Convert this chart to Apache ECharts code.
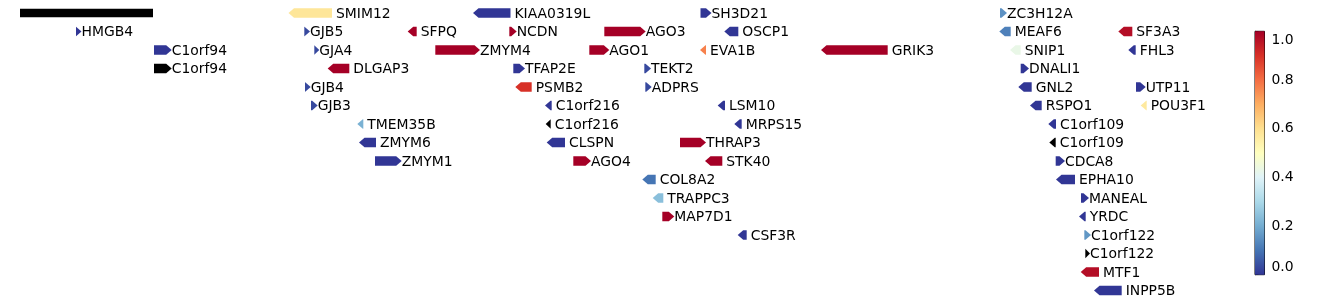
<!DOCTYPE html>
<html>
<head>
<meta charset="utf-8">
<script src="https://cdn.jsdelivr.net/npm/echarts@6/dist/echarts.min.js"></script>
<style>
html,body{margin:0;padding:0;background:#fff;}
#chart{width:1338px;height:305px;}
</style>
</head>
<body>
<div id="chart"></div>
<script>
// ---- data (positions in track units, rows top to bottom) ----
const geneNames = ['SMIM12','KIAA0319L','SH3D21','ZC3H12A',
  'HMGB4','GJB5','SFPQ','NCDN','AGO3','OSCP1','MEAF6','SF3A3',
  'C1orf94','GJA4','ZMYM4','AGO1','EVA1B','GRIK3','SNIP1','FHL3',
  'C1orf94','DLGAP3','TFAP2E','TEKT2','DNALI1',
  'GJB4','PSMB2','ADPRS','GNL2','UTP11',
  'GJB3','C1orf216','LSM10','RSPO1','POU3F1',
  'TMEM35B','C1orf216','MRPS15','C1orf109',
  'ZMYM6','CLSPN','THRAP3','C1orf109',
  'ZMYM1','AGO4','STK40','CDCA8',
  'COL8A2','EPHA10',
  'TRAPPC3','MANEAL',
  'MAP7D1','YRDC',
  'CSF3R','C1orf122',
  'C1orf122',
  'MTF1',
  'INPP5B'];
const geneRows = [0,0,0,0,
  1,1,1,1,1,1,1,1,
  2,2,2,2,2,2,2,2,
  3,3,3,3,3,
  4,4,4,4,4,
  5,5,5,5,5,
  6,6,6,6,
  7,7,7,7,
  8,8,8,8,
  9,9,
  10,10,
  11,11,
  12,12,
  13,
  14,
  15];
const geneStarts = [288.5,473,700.5,1000,
  76,304.3,407.7,509.3,604.3,724.3,999.3,1118.3,
  154,314.3,435.3,589.3,700,821,1010,1128.3,
  154,327.7,513.3,644.3,1020.7,
  305,515.3,645.3,1018.3,1136,
  311,545,717.7,1030,1140.7,
  357.3,545.7,734.3,1048.3,
  359,546.7,680,1049.3,
  375,573.3,705,1055.7,
  642.3,1056,
  652.7,1081,
  662.3,1079,
  737.7,1084.3,
  1085.3,
  1080.7,
  1094];
const geneEnds = [332,510.5,711.5,1007,
  81.5,310,416.7,516.7,645.7,738.3,1010.7,1132.3,
  171.7,319.3,480,609.3,706,887.7,1020.7,1135.7,
  171.7,349.3,525,651,1029,
  310.7,531.7,651.7,1031.7,1145.7,
  317.7,551.7,725,1041.7,1146.7,
  363.3,550.7,741.7,1056,
  376,565,706,1055.7,
  401.7,591,722.3,1065,
  655.7,1075,
  663.3,1089,
  674.3,1085.7,
  746.7,1091,
  1090,
  1099,
  1121.7];
const geneStrands = [-1,-1,1,1,
  1,1,-1,1,1,-1,-1,-1,
  1,1,1,1,-1,-1,-1,-1,
  1,-1,1,1,1,
  1,-1,1,-1,1,
  1,-1,-1,-1,-1,
  -1,-1,-1,-1,
  -1,-1,1,-1,
  1,1,-1,1,
  -1,-1,
  -1,1,
  1,-1,
  -1,1,
  1,
  -1,
  -1];
// null = no score (drawn black)
const geneScores = [0.58,0,0,0.15,
  0,0.03,1,1,1,0,0.12,0.97,
  0,0.03,1,1,0.77,1,0.43,0,
  null,1,0,0.03,0,
  0.03,0.9,0.03,0,0,
  0.03,0,0,0,0.57,
  0.21,null,0,0,
  0,0,1,null,
  0,1,1,0,
  0.1,0,
  0.24,0,
  1,0,
  0,0.16,
  null,
  0.97,
  0];
// region bar (top-left)
const regionRow = [0];
const regionStart = [20];
const regionEnd = [153];
// colorbar
const cbarMin = 0, cbarMax = 1, cbarStep = 0.2;
const cmap = ['#313695','#4575b4','#74add1','#abd9e9','#e0f3f8','#ffffbf','#fee090','#fdae61','#f46d43','#d73027','#a50026'];

// ---- styles ----
const FONT = 'DejaVu Sans';
const FS = 13.9;
const HEAD = 5.5;
const ARROW_FRAC = 0.52;
const BAR_FRAC = 0.45;
const GAP_FWD = 0, GAP_REV = 4;
const TEXT_DY = 1;

function colorOf(v){
  if (v === null || v === undefined || isNaN(v)) return '#000000';
  const t = Math.max(0, Math.min(1, (v - cbarMin) / (cbarMax - cbarMin)));
  return echarts.color.lerp(t, cmap);
}

const geneData = geneNames.map((n, i) => [geneStarts[i], geneEnds[i], geneRows[i], geneStrands[i], geneScores[i] === null ? NaN : geneScores[i], i]);
const regionData = regionRow.map((r, i) => [regionStart[i], regionEnd[i], r]);

const chart = echarts.init(document.getElementById('chart'), null, {renderer: 'canvas'});

const option = {
  animation: false,
  backgroundColor: '#ffffff',
  grid: [
    {left: 0, width: 1338, top: 3.75, height: 296, show: false},
    {left: 1255, width: 9.5, top: 31.3, height: 243.4, show: true, borderColor: '#000', borderWidth: 1, backgroundColor: 'transparent'}
  ],
  xAxis: [
    {gridIndex: 0, type: 'value', min: 0, max: 1338, show: false},
    {gridIndex: 1, type: 'value', min: 0, max: 1, show: false}
  ],
  yAxis: [
    {gridIndex: 0, type: 'value', min: -0.5, max: 15.5, inverse: true, show: false},
    {gridIndex: 1, type: 'value', min: cbarMin, max: cbarMax, interval: cbarStep, position: 'right',
     axisLine: {show: true, lineStyle: {color: '#000', width: 1}},
     axisTick: {show: true, inside: false, length: 3.5, lineStyle: {color: '#000', width: 1}},
     splitLine: {show: false},
     axisLabel: {show: true, color: '#000', fontSize: FS, fontFamily: FONT, margin: 7, padding: [2, 0, 0, 0],
       formatter: v => v.toFixed(1), verticalAlignMaxLabel: 'top', verticalAlignMinLabel: 'bottom'}
    }
  ],
  series: [
    {
      type: 'custom', xAxisIndex: 0, yAxisIndex: 0,
      data: geneData,
      renderItem: function(params, api){
        const s = api.value(0), e = api.value(1), row = api.value(2), strand = api.value(3), sc = api.value(4), idx = api.value(5);
        const p0 = api.coord([s, row]);
        const p1 = api.coord([e, row]);
        const rowH = api.size([0, 1])[1];
        const h = rowH * ARROW_FRAC;
        const yt = p0[1] - h/2, yb = p0[1] + h/2, yc = p0[1];
        const x0 = p0[0], x1 = p1[0];
        const hl = Math.min(HEAD, x1 - x0);
        let pts;
        if (strand > 0) {
          pts = [[x0, yt], [x1 - hl, yt], [x1, yc], [x1 - hl, yb], [x0, yb]];
        } else {
          pts = [[x1, yt], [x0 + hl, yt], [x0, yc], [x0 + hl, yb], [x1, yb]];
        }
        const col = colorOf(isNaN(sc) ? null : sc);
        return {
          type: 'group',
          children: [
            {type: 'polygon', shape: {points: pts}, style: {fill: col, stroke: null}},
            {type: 'text', style: {text: geneNames[idx], x: x1 + (strand > 0 ? GAP_FWD : GAP_REV), y: yc + TEXT_DY,
              fill: '#000', fontSize: FS, fontFamily: FONT, align: 'left', verticalAlign: 'middle'}}
          ]
        };
      }
    },
    {
      type: 'custom', xAxisIndex: 0, yAxisIndex: 0,
      data: regionData,
      renderItem: function(params, api){
        const p0 = api.coord([api.value(0), api.value(2)]);
        const p1 = api.coord([api.value(1), api.value(2)]);
        const h = api.size([0, 1])[1] * BAR_FRAC;
        return {type: 'rect', shape: {x: p0[0], y: p0[1] - h/2, width: p1[0] - p0[0], height: h}, style: {fill: '#000'}};
      }
    },
    {
      type: 'custom', xAxisIndex: 1, yAxisIndex: 1,
      data: [[0, cbarMin, 1, cbarMax]],
      z: 1,
      renderItem: function(params, api){
        const a = api.coord([api.value(0), api.value(1)]);
        const b = api.coord([api.value(2), api.value(3)]);
        const stops = cmap.map((c, i) => ({offset: 1 - i / (cmap.length - 1), color: c}));
        stops.reverse();
        return {type: 'rect', shape: {x: a[0], y: b[1], width: b[0] - a[0], height: a[1] - b[1]},
          style: {fill: new echarts.graphic.LinearGradient(0, 0, 0, 1, stops)}};
      }
    }
  ]
};
chart.setOption(option);
</script>
</body>
</html>
